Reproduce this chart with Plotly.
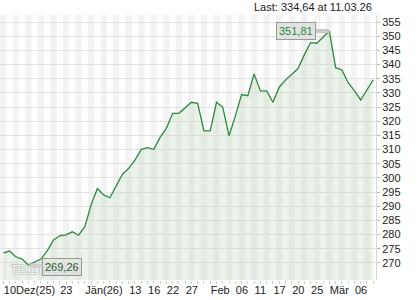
import plotly.graph_objects as go

dates = [
    "2025-12-10", "2025-12-11", "2025-12-12", "2025-12-15", "2025-12-16", "2025-12-17",
    "2025-12-18", "2025-12-19", "2025-12-22", "2025-12-23", "2025-12-29", "2025-12-30",
    "2025-12-31", "2026-01-02", "2026-01-05", "2026-01-06", "2026-01-07", "2026-01-08",
    "2026-01-09", "2026-01-12", "2026-01-13", "2026-01-14", "2026-01-15", "2026-01-16",
    "2026-01-20", "2026-01-21", "2026-01-22", "2026-01-23", "2026-01-26", "2026-01-27",
    "2026-01-28", "2026-01-29", "2026-01-30", "2026-02-02", "2026-02-03", "2026-02-04",
    "2026-02-05", "2026-02-06", "2026-02-09", "2026-02-10", "2026-02-11", "2026-02-12",
    "2026-02-13", "2026-02-17", "2026-02-18", "2026-02-19", "2026-02-20", "2026-02-23",
    "2026-02-24", "2026-02-25", "2026-02-26", "2026-02-27", "2026-03-02", "2026-03-03",
    "2026-03-04", "2026-03-05", "2026-03-06", "2026-03-09", "2026-03-10", "2026-03-11",
]
prices = [
    273.6, 274.2, 272.2, 271.4, 269.26, 270.2, 271.4, 274.3, 278.1, 279.6,
    279.9, 281.0, 279.8, 282.8, 290.5, 296.3, 294.0, 293.0, 296.9, 301.3,
    303.4, 306.3, 310.1, 310.7, 310.1, 314.3, 317.5, 322.8, 322.8, 324.6,
    326.7, 326.3, 316.6, 316.6, 326.7, 324.9, 314.9, 321.8, 329.4, 329.0,
    336.7, 330.7, 330.7, 326.7, 332.0, 334.5, 336.7, 338.6, 343.4, 347.7,
    347.5, 349.6, 351.81, 338.9, 338.1, 333.6, 330.8, 327.5, 331.1, 334.64,
]
tick_dates = ["2025-12-10", "2025-12-23", "2026-01-02", "2026-01-13", "2026-01-16",
              "2026-01-22", "2026-01-27", "2026-02-02", "2026-02-06", "2026-02-11",
              "2026-02-17", "2026-02-20", "2026-02-25", "2026-03-02", "2026-03-06"]
tick_labels = ["10Dez(25)", "23", "Jän(26)", "13", "16", "22", "27", "Feb", "06",
               "11", "17", "20", "25", "Mär", "06"]
y_ticks = list(range(270, 356, 5))
last_text = "Last: 334,64 at 11.03.26"

idx = list(range(len(dates)))
tick_idx = [dates.index(d) for d in tick_dates]

hi_i = prices.index(max(prices))
lo_i = prices.index(min(prices))

def fmt(v):
    return f"{v:.2f}".replace(".", ",")

FONT = "Liberation Sans, Arial, sans-serif"

fig = go.Figure()
fig.add_trace(go.Scatter(
    x=idx, y=prices, mode="lines",
    line=dict(color="#2b8a3e", width=1.3),
    fill="tozeroy", fillcolor="rgba(190,215,185,0.30)",
    hovertext=dates, hoverinfo="text+y",
))

shapes = []
for i in idx:
    if i % 2 == 0:
        shapes.append(dict(type="rect", xref="x", yref="paper", x0=i - 0.5, x1=i + 0.5,
                           y0=0, y1=1, fillcolor="#f3f3f3", line=dict(width=0),
                           layer="below"))

annotations = [
    dict(x=8 / 376, y=(280 - 270) / 265, xref="paper", yref="paper", text="TELETRADER",
         showarrow=False, xanchor="left", yanchor="middle",
         font=dict(family="Liberation Sans Narrow, DejaVu Sans Condensed, sans-serif",
                   size=12, color="rgba(255,255,255,0.9)",
                   shadow="1px 0 0 #c4c4c4, -1px 0 0 #c4c4c4, 0 1px 0 #c4c4c4, 0 -1px 0 #c4c4c4")),
    dict(x=hi_i, y=prices[hi_i], xref="x", yref="y", text=fmt(prices[hi_i]),
         showarrow=True, arrowhead=0, arrowwidth=4, arrowcolor="#c8c8c8",
         ax=-33, ay=0, bgcolor="#e2e2e2", bordercolor="#9a9a9a", borderwidth=1,
         borderpad=2, font=dict(family=FONT, size=11, color="#1e8a3a")),
    dict(x=lo_i, y=prices[lo_i], xref="x", yref="y", text=fmt(prices[lo_i]),
         showarrow=True, arrowhead=0, arrowwidth=4, arrowcolor="rgba(200,200,200,0.7)",
         ax=34, ay=2, bgcolor="rgba(225,225,225,0.45)", bordercolor="#9a9a9a",
         borderwidth=1, borderpad=2, font=dict(family=FONT, size=11, color="#2d5f35")),
    dict(x=1, y=1, xref="paper", yref="paper", text=last_text, showarrow=False,
         xanchor="right", yanchor="bottom", xshift=-2, yshift=0,
         font=dict(family=FONT, size=11, color="#222222")),
]

fig.update_layout(
    width=420, height=300,
    margin=dict(l=0, r=44, t=15, b=20),
    paper_bgcolor="#ffffff", plot_bgcolor="#ffffff",
    showlegend=False,
    shapes=shapes, annotations=annotations,
    font=dict(family=FONT, size=11, color="#222222"),
    xaxis=dict(
        range=[-0.53, len(dates) - 1 + 0.44], tickvals=tick_idx, ticktext=tick_labels,
        tickangle=0, automargin=False,
        ticklabelposition="outside right", ticks="outside", ticklen=3, tickcolor="#c8c8c8",
        minor=dict(dtick=1, tick0=0, ticks="outside", ticklen=3, tickcolor="#d0d0d0", showgrid=False),
        showgrid=False, zeroline=False, showline=False,
        tickfont=dict(family=FONT, size=11, color="#222222"),
    ),
    yaxis=dict(
        side="right", range=[264.0, 357.47], tickvals=y_ticks, automargin=False,
        ticks="outside", ticklen=3, tickcolor="#bbbbbb",
        showgrid=True, gridcolor="#e2e2e2", gridwidth=1, zeroline=False,
        showline=True, linecolor="#d8d8d8", linewidth=1,
        tickfont=dict(family=FONT, size=11, color="#222222"),
    ),
)

fig.write_html("out.html")
